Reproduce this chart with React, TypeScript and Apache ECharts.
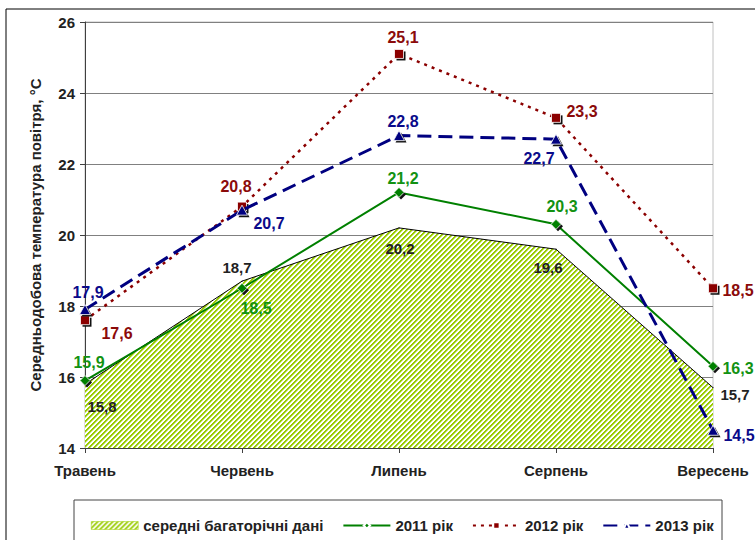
import React, { useEffect, useRef } from "react";
import * as echarts from "echarts";

const categories = ["Травень", "Червень", "Липень", "Серпень", "Вересень"];
const seriesNames = ["середні багаторічні дані", "2011 рік", "2012 рік", "2013 рік"];
const avgData = [15.8, 18.7, 20.2, 19.6, 15.7];
const data2011 = [15.9, 18.5, 21.2, 20.3, 16.3];
const data2012 = [17.6, 20.8, 25.1, 23.3, 18.5];
const data2013 = [17.9, 20.7, 22.8, 22.7, 14.5];
const yMin = 14;
const yMax = 26;
const yStep = 2;
const yName = "Середньодобова температура повітря, °С";

// label offsets (style only)
const offAvg = [[17, 22], [-5, -14], [1, 21], [-8, 18], [22, 7]];
const off2011 = [[4, -18], [14, 20], [4, -14], [6, -18], [25, 2]];
const off2012 = [[32, 13], [-6, -20], [4, -16], [26, -6], [25, 2]];
const off2013 = [[3, -17], [27, 13], [4, -14], [-17, 19], [26, 5]];

const FONT = "'Liberation Sans', Arial, sans-serif";

function makeHatch(): HTMLCanvasElement {
  const n = 5;
  const c = document.createElement("canvas");
  c.width = n;
  c.height = n;
  const ctx = c.getContext("2d")!;
  const img = ctx.createImageData(n, n);
  for (let y = 0; y < n; y++) {
    for (let x = 0; x < n; x++) {
      const k = (x + y) % n;
      const col = k < 2 ? [153, 204, 0] : k === 2 ? [204, 229, 128] : [255, 255, 255];
      const i = (y * n + x) * 4;
      img.data[i] = col[0];
      img.data[i + 1] = col[1];
      img.data[i + 2] = col[2];
      img.data[i + 3] = 255;
    }
  }
  ctx.putImageData(img, 0, 0);
  return c;
}

const fmt = (v: number) => String(v).replace(".", ",");

function withLabels(values: number[], offs: number[][]) {
  return values.map((v, i) => ({ value: v, label: { offset: offs[i] } }));
}

export default function App() {
  const ref = useRef<HTMLDivElement>(null);
  useEffect(() => {
    if (!ref.current) return;
    const chart = echarts.init(ref.current, null, { renderer: "svg" });
    const hatch = { image: makeHatch(), repeat: "repeat" } as any;
    const labelBase = (color: string, size: number) => ({
      show: true,
      position: "inside",
      formatter: (p: any) => fmt(p.value),
      color,
      fontFamily: FONT,
      fontWeight: "bold",
      fontSize: size,
    });
    const shadowSeries = (values: number[], symbol: string, size: any, z: number) => ({
      type: "line",
      data: values,
      symbol,
      symbolSize: size,
      symbolOffset: [2, 2],
      showSymbol: true,
      itemStyle: { color: "#111" },
      lineStyle: { opacity: 0 },
      label: { show: false },
      silent: true,
      z,
    });
    chart.setOption({
      animation: false,
      backgroundColor: "#fff",
      grid: {
        left: 85,
        right: 42,
        top: 22,
        bottom: 92,
        show: true,
        borderColor: "#c0c0c0",
        borderWidth: 1,
        backgroundColor: "transparent",
      },
      graphic: [
        {
          type: "rect",
          shape: { x: 6, y: 9, width: 800, height: 600 },
          style: { fill: "none", stroke: "#000", lineWidth: 1 },
          silent: true,
          z: -10,
        },
        {
          type: "rect",
          shape: { x: 74, y: 500, width: 648, height: 80 },
          style: { fill: "none", stroke: "#444", lineWidth: 1 },
          silent: true,
          z: -10,
        },
      ],
      legend: {
        left: 86,
        top: 513,
        itemWidth: 47,
        itemHeight: 8,
        itemGap: 19,
        textStyle: { fontFamily: FONT, fontWeight: "bold", fontSize: 15, color: "#222" },
        data: [
          { name: seriesNames[0], icon: "rect", itemStyle: { color: hatch, borderColor: "#9c0", borderWidth: 0.5 } },
          { name: seriesNames[1] },
          { name: seriesNames[2] },
          { name: seriesNames[3] },
        ],
      },
      xAxis: {
        type: "category",
        data: categories,
        boundaryGap: false,
        axisLine: { lineStyle: { color: "#404040", width: 1 } },
        axisTick: { show: true, length: 5, lineStyle: { color: "#404040" } },
        axisLabel: {
          margin: 15,
          color: "#222",
          fontFamily: FONT,
          fontWeight: "bold",
          fontSize: 15,
        },
        splitLine: { show: false },
      },
      yAxis: {
        type: "value",
        min: yMin,
        max: yMax,
        interval: yStep,
        name: yName,
        nameLocation: "middle",
        nameGap: 42,
        nameTextStyle: { fontFamily: FONT, fontWeight: "bold", fontSize: 15, color: "#222" },
        axisLine: { show: true, lineStyle: { color: "#404040", width: 1 } },
        axisTick: { show: true, length: 5, lineStyle: { color: "#404040" } },
        axisLabel: { margin: 10, color: "#222", fontFamily: FONT, fontWeight: "bold", fontSize: 15 },
        splitLine: { show: true, lineStyle: { color: "#808080", width: 1 } },
      },
      series: [
        {
          name: seriesNames[0],
          type: "line",
          data: withLabels(avgData, offAvg),
          symbol: "circle",
          symbolSize: 1,
          itemStyle: { color: "#000" },
          lineStyle: { color: "#000", width: 1 },
          areaStyle: { color: hatch, opacity: 1 },
          label: labelBase("#222", 15),
          z: 1,
        },
        shadowSeries(data2011, "diamond", 10, 2),
        {
          name: seriesNames[1],
          type: "line",
          data: withLabels(data2011, off2011),
          symbol: "diamond",
          symbolSize: 10,
          itemStyle: { color: "#008000", borderColor: "#fff", borderWidth: 0.8 },
          lineStyle: { color: "#008000", width: 2 },
          label: labelBase("#129212", 16),
          z: 2,
        },
        shadowSeries(data2012, "rect", 9, 3),
        {
          name: seriesNames[2],
          type: "line",
          data: withLabels(data2012, off2012),
          symbol: "rect",
          symbolSize: 9,
          itemStyle: { color: "#8b0000", borderColor: "#fff", borderWidth: 0.8 },
          lineStyle: { color: "#8b0000", width: 2.5, type: [3, 5] },
          label: labelBase("#8b0a0a", 16),
          z: 3,
        },
        shadowSeries(data2013, "triangle", [11, 10], 4),
        {
          name: seriesNames[3],
          type: "line",
          data: withLabels(data2013, off2013),
          symbol: "triangle",
          symbolSize: [11, 10],
          itemStyle: { color: "#000080", borderColor: "#fff", borderWidth: 0.8 },
          lineStyle: { color: "#000080", width: 3, type: [14, 7] },
          label: labelBase("#0a0a8a", 16),
          z: 4,
        },
      ],
    });
    return () => chart.dispose();
  }, []);
  return <div ref={ref} style={{ width: 755, height: 540, position: "absolute", left: 0, top: 0 }} />;
}
